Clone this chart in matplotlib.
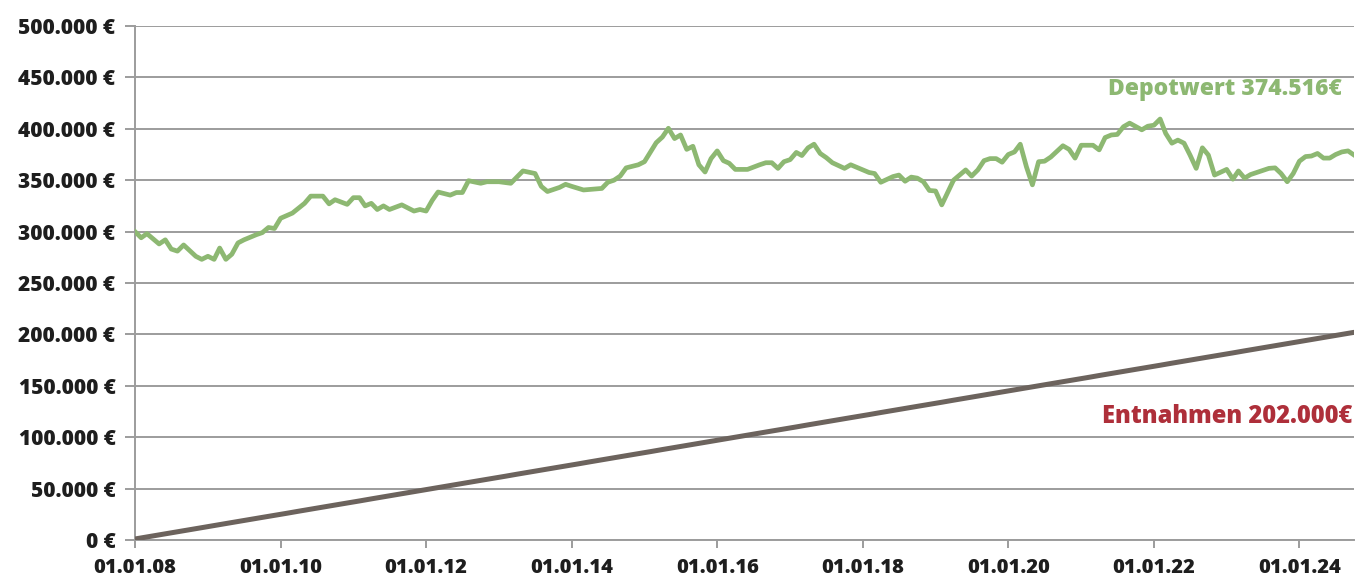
import matplotlib
matplotlib.use("Agg")
import matplotlib.pyplot as plt
import matplotlib.dates as mdates
import matplotlib.ticker as mticker
import numpy as np
import pandas as pd

# --- Depotwert (Monatswerte) ---
depot_monate = [
    "2008-01", "2008-02", "2008-03", "2008-05", "2008-06", "2008-07", "2008-08", "2008-09",
    "2008-11", "2008-12", "2009-01", "2009-02", "2009-03", "2009-04", "2009-05", "2009-06",
    "2009-07", "2009-09", "2009-10", "2009-11", "2009-12", "2010-01", "2010-03", "2010-05",
    "2010-06", "2010-08", "2010-09", "2010-10", "2010-12", "2011-01", "2011-02", "2011-03",
    "2011-04", "2011-05", "2011-06", "2011-07", "2011-09", "2011-11", "2011-12", "2012-01",
    "2012-02", "2012-03", "2012-05", "2012-06", "2012-07", "2012-08", "2012-10", "2012-11",
    "2013-01", "2013-03", "2013-05", "2013-07", "2013-08", "2013-09", "2013-11", "2013-12",
    "2014-01", "2014-03", "2014-05", "2014-06", "2014-07", "2014-08", "2014-09", "2014-10",
    "2014-12", "2015-01", "2015-03", "2015-04", "2015-05", "2015-06", "2015-07", "2015-08",
    "2015-09", "2015-10", "2015-11", "2015-12", "2016-01", "2016-02", "2016-03", "2016-04",
    "2016-06", "2016-08", "2016-09", "2016-10", "2016-11", "2016-12", "2017-01", "2017-02",
    "2017-03", "2017-04", "2017-05", "2017-06", "2017-07", "2017-08", "2017-10", "2017-11",
    "2018-01", "2018-02", "2018-03", "2018-04", "2018-06", "2018-07", "2018-08", "2018-09",
    "2018-10", "2018-11", "2018-12", "2019-01", "2019-02", "2019-03", "2019-04", "2019-06",
    "2019-07", "2019-08", "2019-09", "2019-10", "2019-11", "2019-12", "2020-01", "2020-02",
    "2020-03", "2020-04", "2020-05", "2020-06", "2020-07", "2020-08", "2020-10", "2020-11",
    "2020-12", "2021-01", "2021-03", "2021-04", "2021-05", "2021-06", "2021-07", "2021-08",
    "2021-09", "2021-11", "2021-12", "2022-01", "2022-02", "2022-03", "2022-04", "2022-05",
    "2022-06", "2022-07", "2022-08", "2022-09", "2022-10", "2022-11", "2023-01", "2023-02",
    "2023-03", "2023-04", "2023-05", "2023-08", "2023-09", "2023-10", "2023-11", "2023-12",
    "2024-01", "2024-02", "2024-03", "2024-04", "2024-05", "2024-06", "2024-07", "2024-08",
    "2024-09", "2024-10",
]
depot_werte = [
    300000, 294000, 298000, 288000, 292000, 283000, 281000, 287000,
    276000, 273000, 276000, 273000, 284000, 273000, 278000, 289000,
    292000, 297000, 299000, 304000, 303000, 313000, 318000, 327500,
    334500, 334500, 327000, 331000, 326500, 333000, 333000, 325000,
    327500, 321500, 325000, 321500, 326000, 320000, 321500, 320000,
    330500, 338500, 335500, 338000, 338000, 349500, 347000, 348500,
    348500, 347000, 359000, 356500, 344000, 339000, 343000, 346000,
    344000, 340500, 341500, 342000, 348000, 350000, 354000, 362000,
    365000, 368000, 386500, 392000, 400500, 390500, 394000, 380000,
    383000, 365000, 358000, 371000, 378500, 369000, 366500, 360500,
    360500, 365000, 367000, 367000, 361500, 368000, 370000, 377000,
    374000, 381500, 385000, 376000, 372000, 367000, 361500, 365000,
    360000, 357500, 356500, 348000, 353500, 355000, 349000, 353000,
    352000, 348500, 340000, 339500, 326000, 337500, 350000, 360000,
    354000, 360000, 369000, 371000, 371000, 367500, 375000, 377500,
    385000, 363000, 345500, 368000, 368500, 372500, 383500, 380000,
    371500, 384000, 384000, 379500, 391500, 394000, 394500, 402000,
    405500, 399000, 402500, 403500, 409500, 395500, 386000, 389000,
    386000, 374500, 361500, 381500, 374500, 355000, 360500, 351000,
    359000, 352000, 355500, 361500, 362000, 356500, 348500, 356500,
    368500, 373000, 373500, 376000, 371500, 371500, 375000, 377500,
    378500, 374516,
]

# --- Entnahmen: 1.000 € pro Monat, kumuliert ---
entnahme_start = "2008-01"
entnahme_monate_anzahl = 202
entnahme_pro_monat = 1000

depot_label = "Depotwert 374.516€"
entnahmen_label = "Entnahmen 202.000€"

GREEN = "#8db872"
BROWN = "#6c635d"
RED = "#ae2f3a"
GRID = "#9c9c9c"

plt.rcParams["font.family"] = ["Open Sans", "DejaVu Sans"]

depot_x = pd.to_datetime(depot_monate, format="%Y-%m")
entn_x = pd.date_range(entnahme_start + "-01", periods=entnahme_monate_anzahl, freq="MS")
entn_y = np.cumsum([entnahme_pro_monat] * entnahme_monate_anzahl)

fig = plt.figure(figsize=(13.66, 5.76), dpi=100)
ax = fig.add_axes([135 / 1366, 1 - 540 / 576, (1354 - 135) / 1366, (540 - 26) / 576])

ax.plot(entn_x, entn_y, color=BROWN, lw=3.6, solid_capstyle="round", zorder=3)
ax.plot(depot_x, depot_werte, color=GREEN, lw=3.4, solid_joinstyle="round", zorder=4)

ax.set_ylim(0, 500000)
ax.set_xlim(entn_x[0], entn_x[-1])
ax.yaxis.set_major_locator(mticker.MultipleLocator(50000))
ax.yaxis.set_major_formatter(mticker.FuncFormatter(
    lambda v, p: "0 €" if v == 0 else f"{int(v):,} €".replace(",", ".")))
ax.xaxis.set_major_locator(mdates.YearLocator(2))
ax.xaxis.set_major_formatter(mdates.DateFormatter("%d.%m.%y"))

ax.grid(axis="y", color=GRID, lw=1.4)
ax.set_axisbelow(True)
for side in ["top", "right"]:
    ax.spines[side].set_visible(False)
for side in ["left", "bottom"]:
    ax.spines[side].set_color(GRID)
    ax.spines[side].set_linewidth(1.4)

ax.tick_params(axis="y", length=7, width=1.4, color=GRID, pad=7,
               labelsize=15, labelcolor="#1e1e1e")
ax.tick_params(axis="x", length=6, width=1.4, color=GRID, pad=7,
               labelsize=14.5, labelcolor="#1e1e1e")
for lab in ax.get_xticklabels() + ax.get_yticklabels():
    lab.set_fontweight("heavy")

ax.text(0.990, 0.878, depot_label, transform=ax.transAxes, ha="right", va="center",
        color=GREEN, fontsize=16.5, fontweight="heavy")
ax.text(0.999, 0.241, entnahmen_label, transform=ax.transAxes, ha="right", va="center",
        color=RED, fontsize=17, fontweight="heavy")

plt.savefig("out.png", dpi=100, facecolor="white")
